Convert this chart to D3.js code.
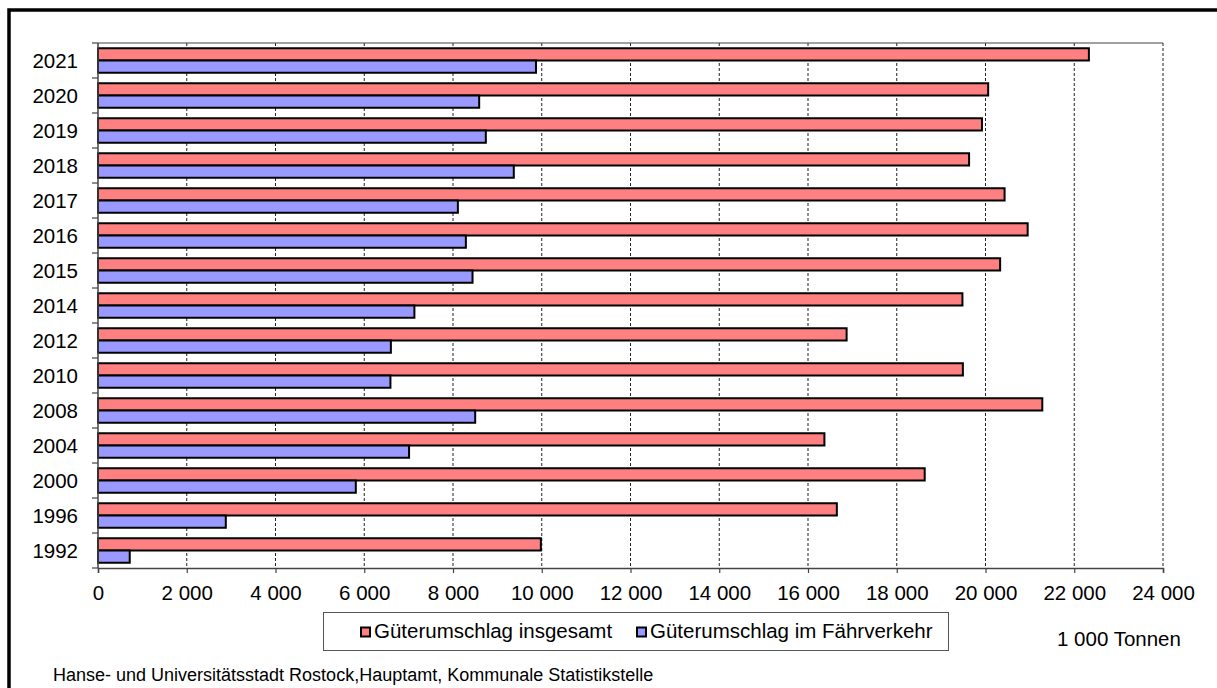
<!DOCTYPE html>
<html>
<head>
<meta charset="utf-8">
<script src="https://cdn.jsdelivr.net/npm/d3@7"></script>
<style>
  html, body { margin: 0; padding: 0; background: #fff; }
  svg { display: block; font-family: "Liberation Sans", Arial, sans-serif; }
</style>
</head>
<body>
<svg id="chart" width="1217" height="688"></svg>
<script>
// ---- Data ----
const years = ["2021","2020","2019","2018","2017","2016","2015","2014","2012","2010","2008","2004","2000","1996","1992"];
const totalValues = [22330, 20060, 19920, 19630, 20430, 20950, 20330, 19480, 16870, 19490, 21280, 16370, 18630, 16650, 9980];
const ferryValues = [9870, 8590, 8740, 9370, 8110, 8290, 8440, 7130, 6600, 6590, 8500, 7010, 5810, 2880, 715];
const seriesNames = ["Güterumschlag insgesamt", "Güterumschlag im Fährverkehr"];
const seriesColors = ["#FF8080", "#9999FF"];
const xTicks = [0, 2000, 4000, 6000, 8000, 10000, 12000, 14000, 16000, 18000, 20000, 22000, 24000];
const unitLabel = "1 000 Tonnen";
const sourceLabel = "Hanse- und Universitätsstadt Rostock,Hauptamt, Kommunale Statistikstelle";

(function () {
const svg = d3.select("#chart");
const FS = 20.5;

// outer frame
svg.append("rect")
  .attr("x", 9).attr("y", 10)
  .attr("width", 1230).attr("height", 700)
  .attr("fill", "none").attr("stroke", "#000").attr("stroke-width", 3.5);

const pLeft = 98, pRight = 1163, pTop = 43, pBottom = 568;

const x = d3.scaleLinear().domain([0, 24000]).range([pLeft, pRight]);
const y = d3.scaleBand().domain(years).range([pTop, pBottom]).paddingInner(0.3).paddingOuter(0.15);
const ySub = d3.scaleBand().domain([0, 1]).range([0, y.bandwidth()]);

// gridlines
svg.append("g").selectAll("line")
  .data(xTicks.filter(d => d > 0))
  .join("line")
  .attr("x1", d => x(d)).attr("x2", d => x(d))
  .attr("y1", pTop).attr("y2", pBottom)
  .attr("stroke", "#222").attr("stroke-width", 1)
  .attr("stroke-dasharray", "3,2");

// top line
svg.append("line")
  .attr("x1", pLeft).attr("x2", pRight)
  .attr("y1", pTop).attr("y2", pTop)
  .attr("stroke", "#444").attr("stroke-width", 1.2);

// bars
const rows = years.map((yr, i) => ({ yr, vals: [totalValues[i], ferryValues[i]] }));
const groups = svg.append("g").selectAll("g")
  .data(rows).join("g")
  .attr("transform", d => `translate(0,${y(d.yr)})`);
groups.selectAll("rect")
  .data(d => d.vals.map((v, k) => ({ v, k })))
  .join("rect")
  .attr("x", x(0))
  .attr("y", d => ySub(d.k))
  .attr("width", d => x(d.v) - x(0))
  .attr("height", ySub.bandwidth())
  .attr("fill", d => seriesColors[d.k])
  .attr("stroke", "#000").attr("stroke-width", 2);

// x axis
const xAxis = d3.axisBottom(x)
  .tickValues(xTicks)
  .tickSize(5)
  .tickPadding(12)
  .tickFormat(d => d3.format(",")(d).replace(/,/g, " "));
const gx = svg.append("g").attr("transform", `translate(0,${pBottom})`).call(xAxis);
gx.select(".domain").attr("stroke", "#444").attr("stroke-width", 1.5);
gx.selectAll(".tick line").attr("stroke", "#444").attr("stroke-width", 1.2);
gx.selectAll(".tick text")
  .attr("font-size", FS).attr("fill", "#000")
  .attr("font-family", "'Liberation Sans', Arial, sans-serif");

// y axis labels
svg.append("g").selectAll("text")
  .data(years).join("text")
  .attr("x", 78)
  .attr("y", d => y(d) + y.bandwidth() / 2)
  .attr("dy", "0.36em")
  .attr("text-anchor", "end")
  .attr("font-size", FS)
  .text(d => d);

// y axis line + ticks at band boundaries
svg.append("line")
  .attr("x1", pLeft).attr("x2", pLeft)
  .attr("y1", pTop).attr("y2", pBottom)
  .attr("stroke", "#444").attr("stroke-width", 1.5);
const bnd = d3.range(years.length + 1).map(i => pTop + i * y.step());
svg.append("g").selectAll("line")
  .data(bnd).join("line")
  .attr("x1", pLeft - 6).attr("x2", pLeft)
  .attr("y1", d => d).attr("y2", d => d)
  .attr("stroke", "#444").attr("stroke-width", 1.2);

// legend
const lg = svg.append("g");
lg.append("rect")
  .attr("x", 323.5).attr("y", 612.5)
  .attr("width", 625).attr("height", 38)
  .attr("fill", "#fff").attr("stroke", "#555").attr("stroke-width", 1);
const legendX = [360, 636];
seriesNames.forEach((name, k) => {
  lg.append("rect")
    .attr("x", legendX[k] + 1).attr("y", 627.5)
    .attr("width", 9).attr("height", 9)
    .attr("fill", seriesColors[k]).attr("stroke", "#000").attr("stroke-width", 2);
  lg.append("text")
    .attr("x", legendX[k] + 14).attr("y", 637.5)
    .attr("font-size", FS)
    .text(name);
});

// unit label
svg.append("text")
  .attr("x", 1057).attr("y", 646)
  .attr("font-size", FS)
  .text(unitLabel);

// source
svg.append("text")
  .attr("x", 53).attr("y", 681)
  .attr("font-size", 18)
  .text(sourceLabel);
})();
</script>
</body>
</html>
